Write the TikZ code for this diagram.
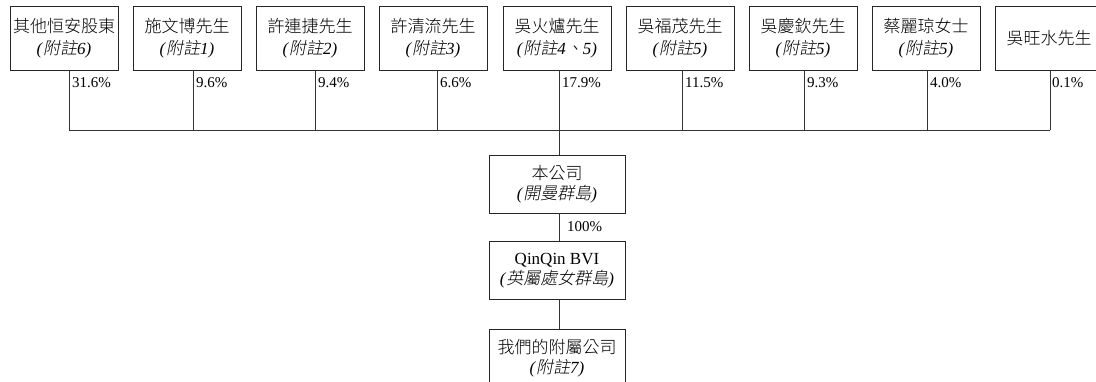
\documentclass[tikz,border=0pt]{standalone}
\usepackage{fontspec}
\setmainfont{Liberation Serif}
\newfontfamily\cjk{Noto Sans CJK TC Light}
\newfontfamily\cjki[FakeSlant=0.2]{Noto Sans CJK TC Light}
\newcommand\zh[1]{{\cjk #1}}
\newcommand\zhi[1]{{\cjki #1}}
\newcommand\note[1]{\textit{(}\zhi{附註}\textit{#1)}}
\begin{document}
\begin{tikzpicture}[x=1pt,y=-1pt,
  holder/.style={draw=black!85,line width=0.9pt,minimum width=108pt,minimum height=64pt,
    align=center,inner sep=0pt,font=\fontsize{17}{22}\selectfont},
  cobox/.style={draw=black!85,line width=0.9pt,minimum width=136pt,minimum height=58pt,
    align=center,inner sep=0pt,font=\fontsize{17}{20}\selectfont},
  link/.style={draw=black!80,line width=0.8pt},
  pct/.style={anchor=north west,inner sep=0pt,font=\fontsize{15}{17}\selectfont}]
\useasboundingbox (0,0) rectangle (1096,382);
\clip (0,0) rectangle (1096,382);
% top row
\node[holder] (b1) at (64,38) {\zh{其他恒安股東}\\\note{6}};
\node[holder] (b2) at (187,38) {\zh{施文博先生}\\\note{1}};
\node[holder] (b3) at (310,38) {\zh{許連捷先生}\\\note{2}};
\node[holder] (b4) at (433,38) {\zh{許清流先生}\\\note{3}};
\node[holder] (b5) at (557,38) {\zh{吳火爐先生}\\\textit{(}\zhi{附註}\textit{4}\zhi{、}\textit{5)}};
\node[holder] (b6) at (680,38) {\zh{吳福茂先生}\\\note{5}};
\node[holder] (b7) at (803,38) {\zh{吳慶欽先生}\\\note{5}};
\node[holder] (b8) at (926,38) {\zh{蔡麗琼女士}\\\note{5}};
\node[holder] (b9) at (1049,38) {\zh{吳旺水先生}};
% junctions on bus
\coordinate (j1) at (69,130);
\coordinate (j2) at (193,130);
\coordinate (j3) at (315,130);
\coordinate (j4) at (437,130);
\coordinate (j5) at (559,130);
\coordinate (j6) at (682,130);
\coordinate (j7) at (804,130);
\coordinate (j8) at (927,130);
\coordinate (j9) at (1050,130);
\foreach \i in {1,...,9} {\draw[link] (b\i.south -| j\i) -- (j\i);}
\draw[link] (j1) -- (j9);
% percentages
\node[pct] (p1) at (72,77) {31.6\%};
\node[pct] (p2) at (196,77) {9.6\%};
\node[pct] (p3) at (318,77) {9.4\%};
\node[pct] (p4) at (440,77) {6.6\%};
\node[pct] (p5) at (562,77) {17.9\%};
\node[pct] (p6) at (685,77) {11.5\%};
\node[pct] (p7) at (807,77) {9.3\%};
\node[pct] (p8) at (930,77) {4.0\%};
\node[pct] (p9) at (1052,77) {0.1\%};
% company chain
\node[cobox] (c1) at (557,184) {\zh{本公司}\\\textit{(}\zhi{開曼群島}\textit{)}};
\node[cobox] (c2) at (557,270.5) {QinQin BVI\\\textit{(}\zhi{英屬處女群島}\textit{)}};
\node[cobox] (c3) at (557,358) {\zh{我們的附屬公司}\\\note{7}};
\draw[link] (j5) -- (c1.north -| j5);
\draw[link] (c1.south -| j5) -- (c2.north -| j5);
\draw[link] (c2.south -| j5) -- (c3.north -| j5);
\node[pct] (p10) at (567,221) {100\%};
\end{tikzpicture}
\end{document}
